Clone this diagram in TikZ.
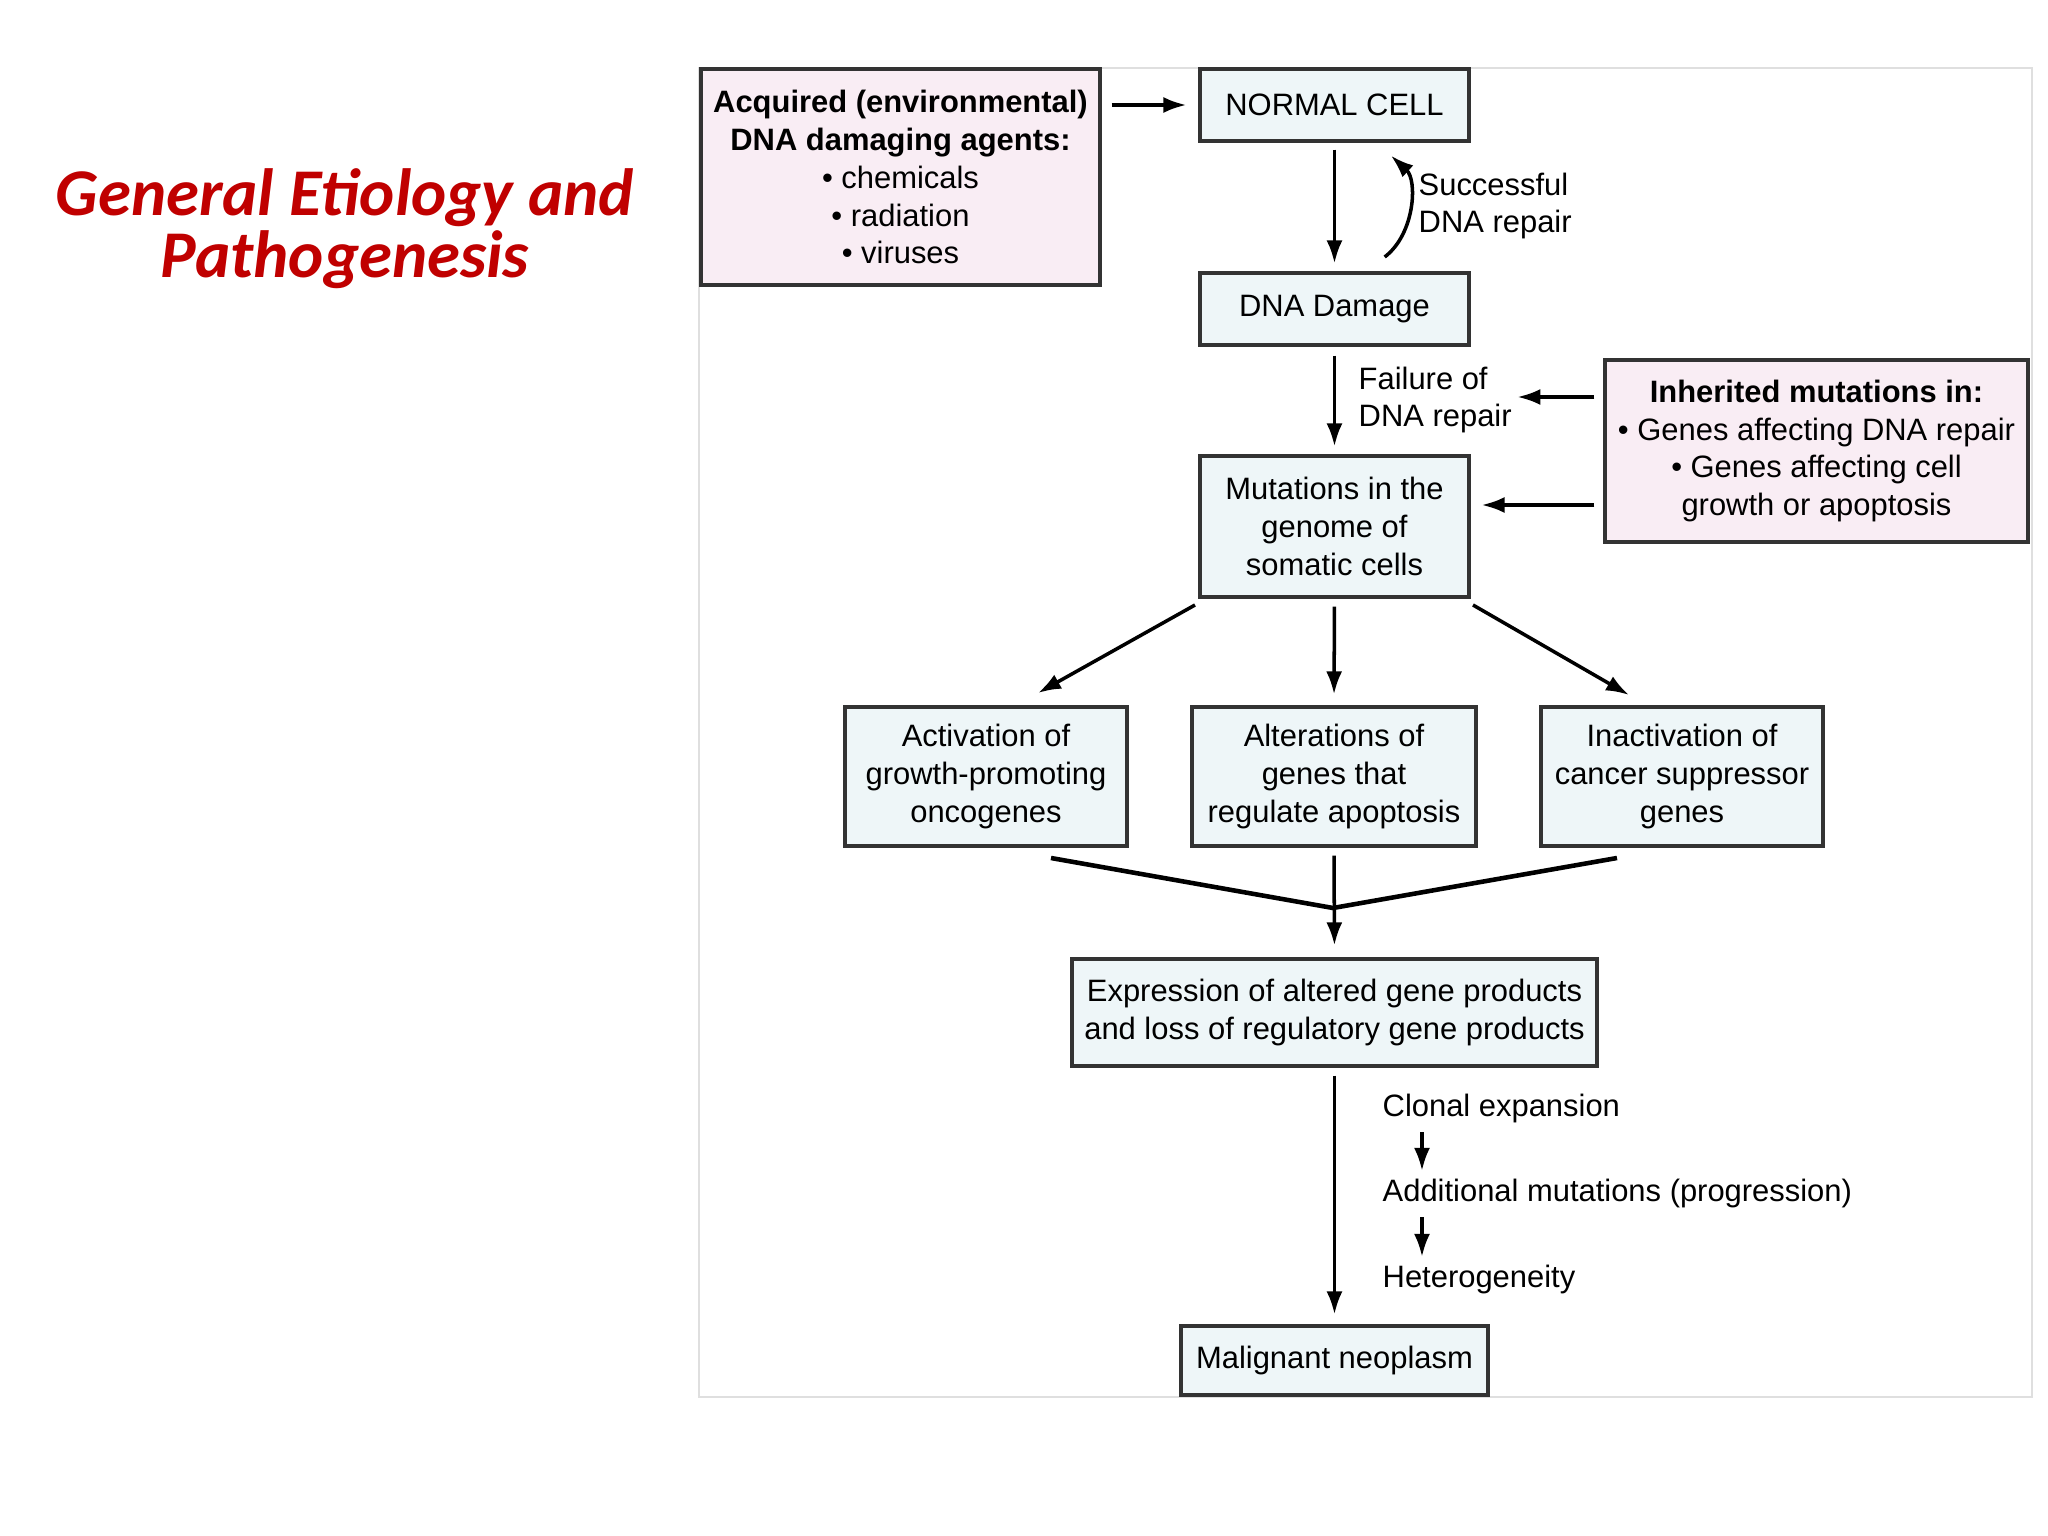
\documentclass[tikz,border=0pt]{standalone}
\usepackage{fontspec}
\setmainfont{Liberation Sans}
\newfontfamily\titlefont{Carlito}
\usetikzlibrary{arrows.meta}
\definecolor{cellblue}{HTML}{EEF6F8}
\definecolor{agentpink}{HTML}{F9EDF4}
\definecolor{titlered}{HTML}{C00000}
\tikzstyle{cell}=[fill=cellblue, draw=black!80, line width=0.9pt, shape=rectangle, align=center, inner sep=0pt]
\tikzstyle{agent}=[fill=agentpink, draw=black!80, line width=0.9pt, shape=rectangle, align=center, inner sep=0pt]
\tikzstyle{lbl}=[align=left, inner sep=0pt, anchor=west]
\tikzstyle{tip}=[-{Latex[length=2.3mm,width=1.6mm]}, line width=1pt]
\tikzstyle{ttl}=[font=\titlefont\bfseries\itshape\fontsize{19}{17.6}\selectfont, text=titlered, align=center, inner sep=0pt]

\begin{document}
\begin{tikzpicture}[font=\fontsize{8.8}{10.8}\selectfont]
		\useasboundingbox [fill=white] (0, 0) rectangle (20.48, -15.36);
		\draw [gray!25, line width=0.5pt] (6.99, -0.68) rectangle (20.32, -13.97);

		\node [style=ttl] (t) at (3.45, -2.29) {General Etiology and\\ Pathogenesis};

		\node [style=agent, minimum width=3.99cm, minimum height=2.16cm] (1) at (9.005, -1.77) {\textbf{Acquired (environmental)}\\ \textbf{DNA damaging agents:}\\ • chemicals\\ • radiation\\ • viruses};
		\node [style=cell, minimum width=2.69cm, minimum height=0.72cm] (2) at (13.345, -1.05) {NORMAL CELL};
		\node [style=cell, minimum width=2.69cm, minimum height=0.72cm] (3) at (13.345, -3.09) {DNA Damage};
		\node [style=cell, minimum width=2.69cm, minimum height=1.41cm] (4) at (13.345, -5.265) {Mutations in the\\ genome of\\ somatic cells};
		\node [style=agent, minimum width=4.23cm, minimum height=1.82cm] (5) at (18.165, -4.51) {\textbf{Inherited mutations in:}\\ • Genes affecting DNA repair\\ • Genes affecting cell\\ growth or apoptosis};
		\node [style=cell, minimum width=2.82cm, minimum height=1.39cm] (6) at (9.86, -7.765) {Activation of\\ growth-promoting\\ oncogenes};
		\node [style=cell, minimum width=2.84cm, minimum height=1.39cm] (7) at (13.34, -7.765) {Alterations of\\ genes that\\ regulate apoptosis};
		\node [style=cell, minimum width=2.82cm, minimum height=1.39cm] (8) at (16.82, -7.765) {Inactivation of\\ cancer suppressor\\ genes};
		\node [style=cell, minimum width=5.25cm, minimum height=1.07cm] (9) at (13.345, -10.125) {Expression of altered gene products\\ and loss of regulatory gene products};
		\node [style=cell, minimum width=3.07cm, minimum height=0.69cm] (10) at (13.345, -13.605) {Malignant neoplasm};

		\node [style=lbl] (11) at (14.18, -2.06) {Successful\\ DNA repair};
		\node [style=lbl] (12) at (13.58, -4.00) {Failure of\\ DNA repair};
		\node [style=lbl] (13) at (13.82, -11.09) {Clonal expansion};
		\node [style=lbl] (14) at (13.82, -11.94) {Additional mutations (progression)};
		\node [style=lbl] (15) at (13.82, -12.80) {Heterogeneity};

		\coordinate (a1) at (11.95, -6.05);
		\coordinate (a2) at (10.38, -6.93);
		\coordinate (b1) at (14.73, -6.05);
		\coordinate (b2) at (16.29, -6.95);
		\coordinate (c1) at (10.51, -8.58);
		\coordinate (c2) at (16.17, -8.58);
		\coordinate (j) at (13.33, -9.08);

		\draw [style=tip, shorten <=1mm, shorten >=1.2mm] (2.west -| 1.east) to (2.west);
		\draw [style=tip, shorten <=0.7mm, shorten >=0.8mm] (2.south) to (3.north);
		\draw [style=tip, bend right=50, shorten <=0.4mm, shorten >=0.6mm] ([xshift=4.7mm, yshift=1.2mm]3.north) to ([xshift=5.2mm, yshift=-0.9mm]2.south);
		\draw [style=tip, shorten <=0.9mm, shorten >=0.8mm] (3.south) to (4.north);
		\draw [style=tip, shorten <=0.9mm, shorten >=0.5mm] ([yshift=5.4mm]5.west) to ([yshift=5.4mm]5.west -| 12.east);
		\draw [style=tip, shorten <=0.9mm, shorten >=1.1mm] ([yshift=-5.4mm]5.west) to ([yshift=-5.4mm]5.west -| 4.east);

		\draw [style=tip] (a1) to (a2);
		\draw [style=tip, shorten <=0.8mm, shorten >=1.1mm] (4.south) to (7.north);
		\draw [style=tip] (b1) to (b2);

		\draw [line width=1.3pt] (c1) to (j) to (c2);
		\draw [style=tip, shorten <=0.8mm, shorten >=1.2mm] (7.south) to (9.north);
		\draw [style=tip, shorten <=0.8mm, shorten >=1mm] (9.south) to (10.north);

		\draw [style=tip, shorten <=0.8mm, shorten >=0.8mm] ([xshift=4mm]13.south west) to ([xshift=4mm]14.north west);
		\draw [style=tip, shorten <=0.8mm, shorten >=0.8mm] ([xshift=4mm]14.south west) to ([xshift=4mm]15.north west);
	\end{tikzpicture}
\end{document}
